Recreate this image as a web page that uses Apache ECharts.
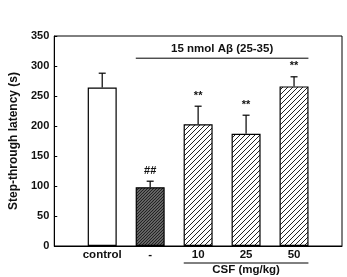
<!DOCTYPE html>
<html>
<head>
<meta charset="utf-8">
<script src="https://cdn.jsdelivr.net/npm/echarts@6/dist/echarts.min.js"></script>
<style>
  html, body { margin: 0; padding: 0; background: #fff; }
  #main { width: 347px; height: 277px; }
</style>
</head>
<body>
<div id="main"></div>
<script>
const categories = ['control', '-', '10', '25', '50']
const latency = [264, 98, 203, 187, 266]
const errors = [24, 10, 30, 31, 16]
const marks = ['', '##', '**', '**', '**']
const yTicks = [0, 50, 100, 150, 200, 250, 300, 350]

const FONT = '"Liberation Sans", Arial, sans-serif'

// diagonal hatch pattern "/"
function hatch(size, width, fg, bg) {
  const c = document.createElement('canvas')
  c.width = size
  c.height = size
  const ctx = c.getContext('2d')
  ctx.fillStyle = bg
  ctx.fillRect(0, 0, size, size)
  ctx.strokeStyle = fg
  ctx.lineWidth = width
  ctx.beginPath()
  ctx.moveTo(-1, size + 1)
  ctx.lineTo(size + 1, -1)
  ctx.moveTo(-1, 1)
  ctx.lineTo(1, -1)
  ctx.moveTo(size - 1, size + 1)
  ctx.lineTo(size + 1, size - 1)
  ctx.stroke()
  return c
}

const lightFill = { image: hatch(5, 1, '#222', '#fff'), repeat: 'repeat' }
const darkFill = { image: hatch(3, 1.3, '#222', '#999'), repeat: 'repeat' }
const fills = ['#fff', darkFill, lightFill, lightFill, lightFill]

const chart = echarts.init(document.getElementById('main'))

const option = {
  animation: false,
  textStyle: { fontFamily: FONT },
  grid: {
    left: 52, right: 5, top: 36, bottom: 31,
    show: true, borderColor: '#000', borderWidth: 1,
  },
  xAxis: {
    type: 'value',
    min: 0,
    max: 6,
    interval: 1,
    splitLine: { show: false },
    axisLine: { lineStyle: { color: '#000' } },
    axisTick: { show: false },
    axisLabel: {
      color: '#111',
      fontWeight: 'bold',
      fontSize: 11.5,
      margin: 3,
      formatter: (v) => (v >= 1 && v <= 5 ? categories[v - 1] : ''),
    },
  },
  yAxis: {
    type: 'value',
    min: yTicks[0],
    max: yTicks[yTicks.length - 1],
    interval: 50,
    name: 'Step-through latency (s)',
    nameLocation: 'middle',
    nameGap: 30,
    nameTextStyle: { fontWeight: 'bold', fontSize: 12, color: '#111' },
    splitLine: { show: false },
    axisLine: { show: true, lineStyle: { color: '#000' } },
    axisTick: { inside: true, length: 3, lineStyle: { color: '#000' } },
    axisLabel: { color: '#111', fontWeight: 'bold', fontSize: 11, margin: 5 },
  },
  series: [
    {
      type: 'bar',
      barWidth: 29,
      data: latency.map((v, i) => ({
        value: [i + 1, v],
        itemStyle: { color: fills[i], borderColor: '#000', borderWidth: 1.2 },
      })),
    },
    {
      type: 'custom',
      data: latency.map((v, i) => [i + 1, v, errors[i], i]),
      renderItem: (params, api) => {
        const x = api.value(0)
        const v = api.value(1)
        const e = api.value(2)
        const i = api.value(3)
        const base = api.coord([x, v])
        const top = api.coord([x, v + e])
        const style = { stroke: '#000', lineWidth: 1.2 }
        return {
          type: 'group',
          children: [
            { type: 'line', shape: { x1: base[0], y1: base[1], x2: top[0], y2: top[1] }, style },
            { type: 'line', shape: { x1: top[0] - 3.5, y1: top[1], x2: top[0] + 3.5, y2: top[1] }, style },
            {
              type: 'text',
              style: {
                text: marks[i],
                x: top[0],
                y: top[1] - 5,
                align: 'center',
                verticalAlign: 'bottom',
                font: 'bold 11px ' + FONT,
                fill: '#111',
              },
            },
          ],
        }
      },
      z: 5,
    },
  ],
}

chart.setOption(option)

// group brackets placed through the axis scales
const topL = chart.convertToPixel({ gridIndex: 0 }, [1.7, 313])
const topR = chart.convertToPixel({ gridIndex: 0 }, [5.3, 313])
const botL = chart.convertToPixel({ gridIndex: 0 }, [2.7, 0])
const botR = chart.convertToPixel({ gridIndex: 0 }, [5.3, 0])

chart.setOption({
  graphic: [
    { type: 'line', shape: { x1: topL[0], y1: topL[1], x2: topR[0], y2: topR[1] }, style: { stroke: '#000', lineWidth: 1 } },
    {
      type: 'text',
      x: (topL[0] + topR[0]) / 2,
      y: topL[1] - 3,
      style: { text: '15 nmol Aβ (25-35)', align: 'center', verticalAlign: 'bottom', font: 'bold 11.5px ' + FONT, fill: '#111' },
    },
    { type: 'line', shape: { x1: botL[0], y1: botL[1] + 17, x2: botR[0], y2: botR[1] + 17 }, style: { stroke: '#000', lineWidth: 1 } },
    {
      type: 'text',
      x: (botL[0] + botR[0]) / 2,
      y: botL[1] + 18,
      style: { text: 'CSF (mg/kg)', align: 'center', verticalAlign: 'top', font: 'bold 11.5px ' + FONT, fill: '#111' },
    },
  ],
})
</script>
</body>
</html>
